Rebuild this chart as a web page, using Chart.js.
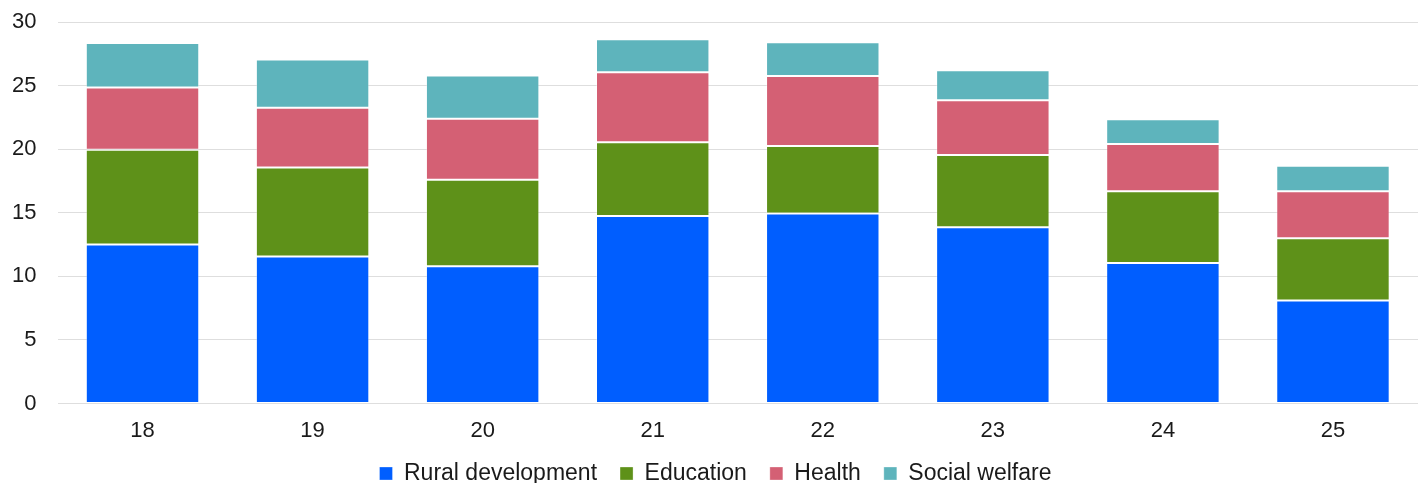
<!DOCTYPE html>
<html>
<head>
<meta charset="utf-8">
<script src="https://cdn.jsdelivr.net/npm/chart.js@4.4.1/dist/chart.umd.min.js"></script>
<style>
  html, body { margin: 0; padding: 0; background: #ffffff; }
  #wrap { width: 1426px; height: 483px; position: relative; }
</style>
</head>
<body>
<div id="wrap"><canvas id="chart" width="1426" height="483"></canvas></div>
<script>
// Category labels along the x axis
const categories = ['18', '19', '20', '21', '22', '23', '24', '25'];

// Stacked series values
const ruralDevelopment = [12.5, 11.55, 10.8, 14.75, 14.95, 13.85, 11.05, 8.1];
const education        = [7.45, 7.0, 6.8, 5.8, 5.3, 5.7, 5.65, 4.9];
const health           = [4.9, 4.7, 4.8, 5.5, 5.5, 4.3, 3.7, 3.7];
const socialWelfare    = [3.5, 3.8, 3.4, 2.6, 2.65, 2.35, 1.95, 2.0];

// Y axis tick values
const yTicks = [0, 5, 10, 15, 20, 25, 30];

const seriesNames  = ['Rural development', 'Education', 'Health', 'Social welfare'];
const seriesValues = [ruralDevelopment, education, health, socialWelfare];
const seriesColors = ['#005EFF', '#5E9119', '#D46074', '#5EB4BC'];

const FONT = '"Liberation Sans", Arial, sans-serif';
const TEXT = '#1a1a1a';

new Chart(document.getElementById('chart'), {
  type: 'bar',
  data: {
    labels: categories,
    datasets: seriesNames.map((name, i) => ({
      label: name,
      data: seriesValues[i],
      backgroundColor: seriesColors[i],
      borderColor: 'rgba(255,255,255,0.3)',
      borderWidth: 1,
      borderSkipped: false,
      barPercentage: 0.667,
      categoryPercentage: 1.0
    }))
  },
  options: {
    responsive: false,
    animation: false,
    devicePixelRatio: 1,
    layout: { padding: { left: 13, right: 8, top: 22, bottom: -12 } },
    plugins: {
      tooltip: { enabled: false },
      legend: {
        position: 'bottom',
        labels: {
          font: { family: FONT, size: 23 },
          color: TEXT,
          boxWidth: 13,
          boxHeight: 13,
          padding: 23
        }
      }
    },
    scales: {
      x: {
        stacked: true,
        grid: { display: false },
        border: { display: false },
        afterFit: (scale) => { scale.height = 35.5; },
        ticks: { font: { family: FONT, size: 22 }, color: TEXT, padding: 6 }
      },
      y: {
        stacked: true,
        min: yTicks[0],
        max: yTicks[yTicks.length - 1],
        afterBuildTicks: (scale) => { scale.ticks = yTicks.map(v => ({ value: v })); },
        afterFit: (scale) => {
          scale.width = 44.5;
          scale.paddingTop = 0;
          scale.paddingBottom = 0;
        },
        grid: { color: '#dedede', lineWidth: 1, drawTicks: false },
        border: { display: false },
        ticks: { font: { family: FONT, size: 22 }, color: TEXT, padding: 21 }
      }
    }
  }
});
</script>
</body>
</html>
